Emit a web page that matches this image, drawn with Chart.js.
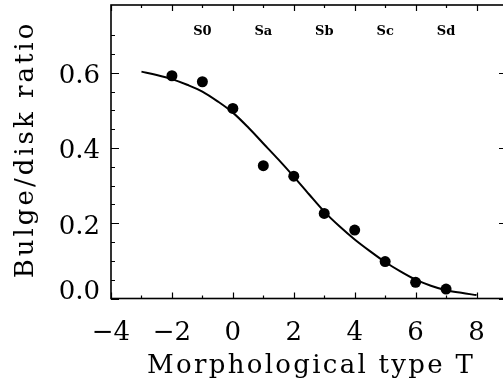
<!DOCTYPE html>
<html>
<head>
<meta charset="utf-8">
<script src="https://cdn.jsdelivr.net/npm/chart.js@4.4.1/dist/chart.umd.min.js"></script>
<style>
  html, body { margin: 0; padding: 0; background: #fff; overflow: hidden; }
  #wrap { width: 512px; height: 383px; }
</style>
</head>
<body>
<div id="wrap"><canvas id="c" width="512" height="383"></canvas></div>
<script>
// Mean bulge/disk ratio per morphological type T
const typeT = [-2, -1, 0, 1, 2, 3, 4, 5, 6, 7];
const bulgeDisk = [0.592, 0.576, 0.505, 0.353, 0.325, 0.226, 0.182, 0.098, 0.043, 0.025];

// Fitted relation, sampled along T
const fitT = [-3, -2.5, -2, -1.5, -1, -0.5, 0, 0.5, 1, 1.5, 2, 2.5, 3, 3.5, 4, 4.5, 5, 5.5, 6, 6.5, 7, 7.5, 8];
const fitRatio = [0.603, 0.594, 0.583, 0.568, 0.550, 0.524, 0.494, 0.455, 0.412, 0.369, 0.324, 0.277,
                  0.231, 0.192, 0.157, 0.126, 0.097, 0.072, 0.050, 0.034, 0.022, 0.015, 0.009];

// Hubble class names and the T value each sits above
const classNames = ['S0', 'Sa', 'Sb', 'Sc', 'Sd'];
const classT = [-1, 1, 3, 5, 7];
const classLevel = 0.712;

const xTickLabels = ['\u22124', '\u22122', '0', '2', '4', '6', '8'];
const yTickLabels = ['0.0', '0.2', '0.4', '0.6'];

const xTitle = 'Morphological type T';
const yTitle = 'Bulge/disk ratio';

const SERIF = '"DejaVu Serif", "Liberation Serif", serif';

function isMultiple(v, step) {
  const q = v / step;
  return Math.abs(q - Math.round(q)) < 1e-6;
}

// Box frame with inward major/minor ticks on all four sides
const framePlugin = {
  id: 'frame',
  afterDatasetsDraw(chart) {
    const { ctx, chartArea: a, scales: { x, y } } = chart;
    ctx.save();
    ctx.strokeStyle = '#000';
    ctx.lineWidth = 1.6;
    ctx.strokeRect(a.left, a.top, a.right - a.left, a.bottom - a.top);
    ctx.lineWidth = 1.2;
    ctx.beginPath();
    x.ticks.forEach(t => {
      if (!isMultiple(t.value, 0.5)) return;
      const px = Math.round(x.getPixelForValue(t.value)) + 0.5;
      const len = isMultiple(t.value, 2) ? 6 : 3;
      ctx.moveTo(px, a.bottom); ctx.lineTo(px, a.bottom - len);
      ctx.moveTo(px, a.top); ctx.lineTo(px, a.top + len);
    });
    y.ticks.forEach(t => {
      if (!isMultiple(t.value, 0.05)) return;
      const py = Math.round(y.getPixelForValue(t.value)) + 0.5;
      const len = isMultiple(t.value, 0.2) ? 8 : 4;
      ctx.moveTo(a.left, py); ctx.lineTo(a.left + len, py);
      ctx.moveTo(a.right, py); ctx.lineTo(a.right - len, py);
    });
    ctx.stroke();
    ctx.restore();
  }
};

function spacedText(ctx, text, cx, cy, spacing) {
  ctx.letterSpacing = spacing + 'px';
  ctx.fillText(text, cx + spacing / 2, cy);
  ctx.letterSpacing = '0px';
}

// Tick labels, axis titles and class names
const textPlugin = {
  id: 'texts',
  afterDraw(chart) {
    const { ctx, chartArea: a, scales: { x, y } } = chart;
    ctx.save();
    ctx.fillStyle = '#000';
    ctx.font = '26px ' + SERIF;
    ctx.textBaseline = 'alphabetic';

    ctx.textAlign = 'center';
    xTickLabels.forEach(s => {
      const v = parseFloat(s.replace('\u2212', '-'));
      ctx.fillText(s, x.getPixelForValue(v), a.bottom + 41.5);
    });

    ctx.textAlign = 'right';
    yTickLabels.forEach(s => {
      const v = parseFloat(s);
      const py = y.getPixelForValue(v);
      ctx.fillText(s, a.left - 11, v === 0 ? py : py + 10.5);
    });

    ctx.textAlign = 'center';
    spacedText(ctx, xTitle, 310, 373, 2.3);

    ctx.save();
    ctx.translate(33, 151);
    ctx.rotate(-Math.PI / 2);
    spacedText(ctx, yTitle, 0, 0, 3);
    ctx.restore();

    ctx.font = 'bold 13px ' + SERIF;
    classNames.forEach((n, i) => {
      ctx.fillText(n, x.getPixelForValue(classT[i]), y.getPixelForValue(classLevel) + 4.5);
    });
    ctx.restore();
  }
};

new Chart(document.getElementById('c'), {
  type: 'scatter',
  data: {
    datasets: [
      {
        label: 'fit',
        data: fitT.map((t, i) => ({ x: t, y: fitRatio[i] })),
        showLine: true,
        borderColor: '#000',
        borderWidth: 2,
        pointRadius: 0,
        cubicInterpolationMode: 'monotone',
        fill: false
      },
      {
        label: 'mean',
        data: typeT.map((t, i) => ({ x: t, y: bulgeDisk[i] })),
        backgroundColor: '#000',
        borderColor: '#000',
        pointRadius: 5.5,
        pointBorderWidth: 0,
        showLine: false
      }
    ]
  },
  options: {
    responsive: false,
    animation: false,
    devicePixelRatio: 1,
    layout: { autoPadding: false, padding: { left: 111, right: 5, top: 5, bottom: 84.5 } },
    plugins: { legend: { display: false }, tooltip: { enabled: false } },
    scales: {
      x: { type: 'linear', min: -4, max: 9, display: false, ticks: { stepSize: 0.5 } },
      y: { type: 'linear', min: 0, max: 0.78, display: false, ticks: { stepSize: 0.05 } }
    }
  },
  plugins: [framePlugin, textPlugin]
});
</script>
</body>
</html>
